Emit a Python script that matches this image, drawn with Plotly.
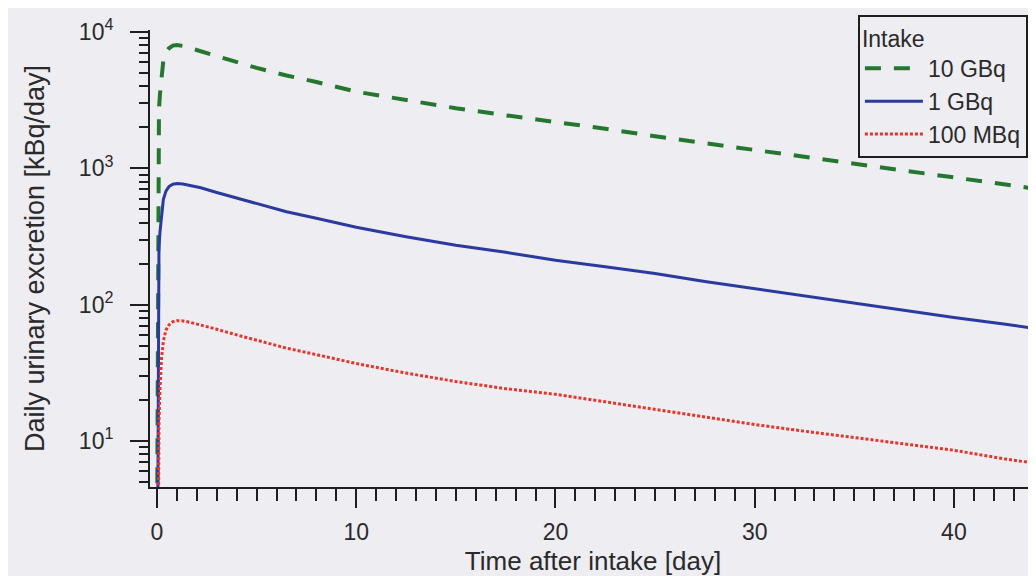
import plotly.graph_objects as go

# Time after intake [day]
days = [0.01, 0.06, 0.1, 0.15, 0.23, 0.32, 0.45, 0.6, 0.8, 1.0, 1.3, 1.7, 2.2, 3, 4, 5,
        6.5, 8, 10, 12.5, 15, 17.5, 20, 22.5, 25, 27.5, 30, 32.5, 35, 37.5, 40, 42.5,
        45, 47.5, 50]

# Daily urinary excretion [kBq/day]
gbq10 = [3, 1600, 2700, 3500, 5000, 6200, 7100, 7600, 7950, 8020, 7900, 7600, 7250,
         6700, 6050, 5450, 4800, 4300, 3650, 3150, 2760, 2450, 2200, 1950, 1720, 1530,
         1360, 1210, 1085, 965, 865, 760, 680, 610, 545]
gbq1 = [0.3, 150, 260, 340, 470, 590, 680, 735, 765, 775, 768, 750, 720, 665, 605, 550,
        480, 430, 370, 315, 273, 242, 212, 190, 169, 148, 131, 115, 102, 90, 80.5, 72,
        64, 57, 51]
mbq100 = [0.03, 6, 14, 24, 41, 54, 65, 71, 75, 76.3, 76, 74, 71, 66, 60, 55, 48, 43, 37,
          31.5, 27.3, 24.2, 22.0, 19.4, 17.1, 15.0, 13.2, 11.8, 10.6, 9.5, 8.55, 7.4,
          6.55, 5.85, 5.2]

series_names = ["10 GBq", "1 GBq", "100 MBq"]
y_major = [10, 100, 1000, 10000]
y_major_text = ["10<sup>1</sup>", "10<sup>2</sup>", "10<sup>3</sup>", "10<sup>4</sup>"]
x_major = [0, 10, 20, 30, 40]

y_minor = [m * 10 ** k for k in range(0, 4) for m in range(2, 10)]

FONT = "Liberation Sans, Arial, sans-serif"
TXT = "#2a2a2a"
BG = "#EDEDF2"
AX = "#1e1e1e"

fig = go.Figure()
fig.add_trace(go.Scatter(x=days, y=gbq10, mode="lines", name=series_names[0],
                         line=dict(color="#25772F", width=4, dash="16px,13px")))
fig.add_trace(go.Scatter(x=days, y=gbq1, mode="lines", name=series_names[1],
                         line=dict(color="#2B3A9E", width=3)))
fig.add_trace(go.Scatter(x=days, y=mbq100, mode="lines", name=series_names[2],
                         line=dict(color="#E8352B", width=3, dash="3px,2px")))

fig.update_layout(
    width=1028, height=568,
    margin=dict(l=142, r=0, t=22, b=89),
    paper_bgcolor=BG, plot_bgcolor=BG,
    font=dict(family=FONT, size=20, color=TXT),
    showlegend=True,
    legend=dict(
        title=dict(text="Intake", font=dict(size=23, color=TXT)),
        x=0.799, y=1.033, xanchor="left", yanchor="top",
        bgcolor=BG, bordercolor="#1e1e1e", borderwidth=2,
        font=dict(size=23, color=TXT),
        tracegroupgap=0, itemwidth=58,
    ),
    xaxis=dict(
        range=[-0.35, 44.12], automargin=False,
        tickvals=x_major, ticks="outside", ticklen=19, tickwidth=2, tickcolor=AX,
        ticklabelstandoff=4,
        showline=True, linecolor=AX, linewidth=2, showgrid=False, zeroline=False,
        tickfont=dict(size=23, color=TXT),
        minor=dict(dtick=1, tick0=0, ticks="outside", ticklen=12, tickwidth=2,
                   tickcolor=AX, showgrid=False),
        title=dict(text="Time after intake [day]", font=dict(size=26, color=TXT),
                   standoff=10),
    ),
    yaxis=dict(
        type="log", range=[0.6625, 4.0147], automargin=False,
        tickvals=y_major, ticktext=y_major_text, ticklabelstandoff=12,
        ticks="outside", ticklen=18, tickwidth=2, tickcolor=AX,
        showline=True, linecolor=AX, linewidth=2, showgrid=False, zeroline=False,
        tickfont=dict(size=23, color=TXT),
        minor=dict(tickvals=y_minor, ticks="outside", ticklen=9, tickwidth=2,
                   tickcolor=AX, showgrid=False),
        title=dict(text="Daily urinary excretion [kBq/day]",
                   font=dict(size=27, color=TXT), standoff=26),
    ),
)

fig.write_html("out.html")
